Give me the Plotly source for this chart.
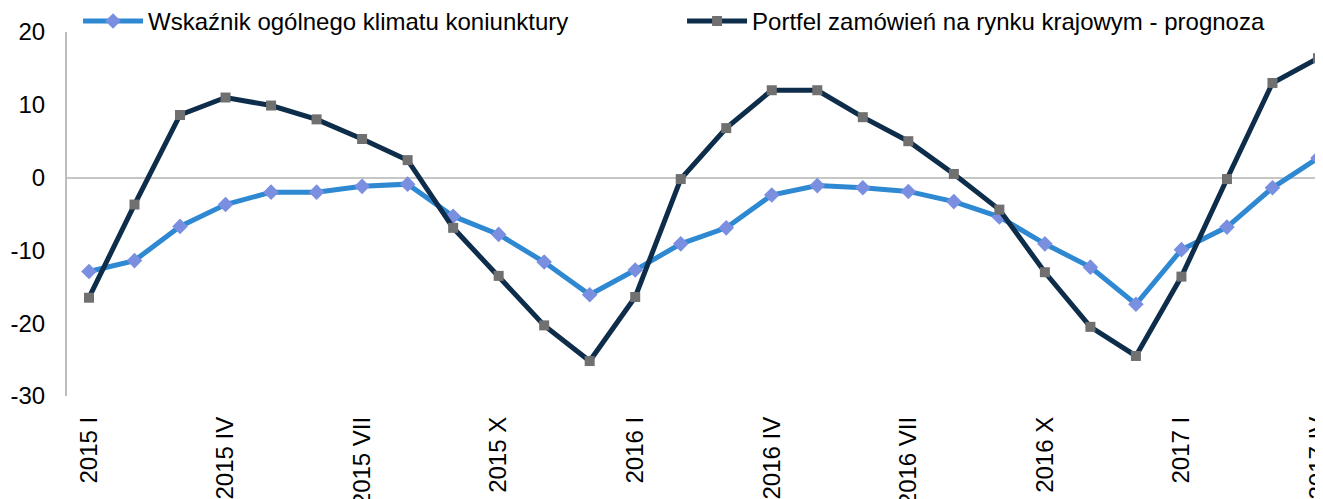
import plotly.graph_objects as go

roman = ["I", "II", "III", "IV", "V", "VI", "VII", "VIII", "IX", "X", "XI", "XII"]
months = [f"{y} {m}" for y in (2015, 2016, 2017) for m in roman][:28]

klimat = [-12.9, -11.4, -6.7, -3.7, -2.0, -2.0, -1.2, -0.9, -5.3, -7.8, -11.6, -16.1,
          -12.7, -9.1, -6.9, -2.4, -1.1, -1.4, -1.9, -3.3, -5.4, -9.1, -12.3, -17.4,
          -9.9, -6.8, -1.4, 2.7]
portfel = [-16.5, -3.7, 8.6, 11.0, 9.9, 8.0, 5.3, 2.4, -6.9, -13.5, -20.3, -25.2,
           -16.4, -0.2, 6.8, 12.0, 12.0, 8.3, 5.0, 0.5, -4.4, -13.0, -20.5, -24.5,
           -13.6, -0.2, 13.0, 16.4]

tick_labels = months[::3]
y_ticks = [20, 10, 0, -10, -20, -30]
y_tick_text = ["20", "10", "0", "-10", "-20", "-30"]

fig = go.Figure()
fig.add_trace(go.Scatter(
    x=months, y=klimat, mode="lines+markers",
    name="Wskaźnik ogólnego klimatu koniunktury",
    line=dict(color="#2E88D2", width=5),
    marker=dict(symbol="diamond", size=12, color="#7B8FE0"),
))
fig.add_trace(go.Scatter(
    x=months, y=portfel, mode="lines+markers",
    name="Portfel zamówień na rynku krajowym - prognoza",
    line=dict(color="#0E2D4A", width=5),
    marker=dict(symbol="square", size=10, color="#707070"),
))

# page body has an 8px margin, so the figure is a bit smaller than the window
fig.update_layout(
    width=1315, height=491,
    margin=dict(l=59, r=0, t=24, b=103, autoexpand=False),
    paper_bgcolor="white", plot_bgcolor="white",
    font=dict(family="Liberation Sans, Arial", size=24, color="black"),
    legend=dict(orientation="h", x=0.0088, xanchor="left", y=1.091, yanchor="top",
                entrywidth=529, entrywidthmode="pixels", itemwidth=60,
                font=dict(size=24), bgcolor="rgba(0,0,0,0)"),
)
fig.update_xaxes(
    type="category", categoryorder="array", categoryarray=months,
    range=[-0.483, 27.11],
    tickmode="array", tickvals=tick_labels, ticktext=tick_labels,
    tickangle=-90, ticks="", ticklabelstandoff=15,
    showline=False, showgrid=False, zeroline=False,
    tickfont=dict(size=24),
)
fig.update_yaxes(
    range=[-30, 20], tickmode="array", tickvals=y_ticks, ticktext=y_tick_text,
    showline=True, linecolor="#BDBDBD", linewidth=2,
    showgrid=False, zeroline=True, zerolinecolor="#C6C6C6", zerolinewidth=2,
    ticks="", ticklabelstandoff=15, tickfont=dict(size=24),
)

fig.write_html("out.html")
